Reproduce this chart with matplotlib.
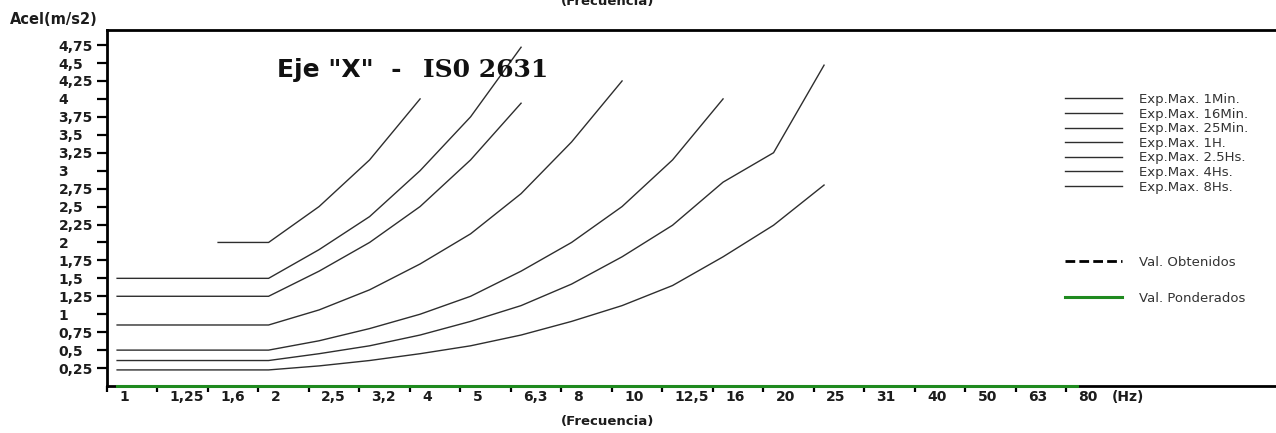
import numpy as np
import matplotlib
matplotlib.use("Agg")
import matplotlib.pyplot as plt

# Third-octave frequency bands (Hz) shown as evenly spaced categories
freq_labels = ["1", "1,25", "1,6", "2", "2,5", "3,2", "4", "5", "6,3", "8",
               "10", "12,5", "16", "20", "25", "31", "40", "50", "63", "80"]

# Maximum exposure acceleration limits (m/s2), X axis, per band
nan = np.nan
exp_1min = [nan, nan, 2.0, 2.0, 2.5, 3.15, 4.0]
exp_16min = [1.5, 1.5, 1.5, 1.5, 1.9, 2.36, 3.0, 3.75, 4.72]
exp_25min = [1.25, 1.25, 1.25, 1.25, 1.6, 2.0, 2.5, 3.15, 3.94]
exp_1h = [0.85, 0.85, 0.85, 0.85, 1.06, 1.34, 1.7, 2.12, 2.68, 3.4, 4.25]
exp_2_5h = [0.5, 0.5, 0.5, 0.5, 0.63, 0.8, 1.0, 1.25, 1.6, 2.0, 2.5, 3.15, 4.0]
exp_4h = [0.355, 0.355, 0.355, 0.355, 0.45, 0.56, 0.71, 0.9, 1.12, 1.42,
          1.8, 2.24, 2.84, 3.25, 4.47]
exp_8h = [0.224, 0.224, 0.224, 0.224, 0.28, 0.355, 0.45, 0.56, 0.71, 0.9,
          1.12, 1.4, 1.8, 2.24, 2.8]

# Measured and weighted values per band
val_obtenidos = [0.0] * len(freq_labels)
val_ponderados = [0.0] * len(freq_labels)

limit_series = [
    ("Exp.Max. 1Min.", exp_1min),
    ("Exp.Max. 16Min.", exp_16min),
    ("Exp.Max. 25Min.", exp_25min),
    ("Exp.Max. 1H.", exp_1h),
    ("Exp.Max. 2.5Hs.", exp_2_5h),
    ("Exp.Max. 4Hs.", exp_4h),
    ("Exp.Max. 8Hs.", exp_8h),
]

y_ticks = [0.25 * k for k in range(1, 20)]


def comma_label(v):
    return f"{v:g}".replace(".", ",")


W, H = 1276, 433
fig = plt.figure(figsize=(W / 100, H / 100), dpi=100)
fig.patch.set_facecolor("white")
ax = fig.add_axes([107 / W, 47 / H, 1 - 107 / W, 356 / H])
ax.set_xlim(-0.2, 22.95)
ax.set_ylim(0, 4.96)

text_col = "#1c1c1c"
line_col = "#2e2e2e"

limit_handles = []
for label, vals in limit_series:
    x = np.arange(len(vals))
    (ln,) = ax.plot(x, vals, color=line_col, lw=1.0, label=label, zorder=3)
    limit_handles.append(ln)

xi = np.arange(len(freq_labels))
(h_obt,) = ax.plot(xi, val_obtenidos, color="black", lw=2.0,
                   linestyle=(0, (3.5, 1.5)), label="Val. Obtenidos",
                   clip_on=False, zorder=4)
(h_pond,) = ax.plot(xi, val_ponderados, color="#1f8a1f", lw=2.2,
                    label="Val. Ponderados", clip_on=False, zorder=5)

# Spines
ax.spines["right"].set_visible(False)
for side in ("left", "top", "bottom"):
    ax.spines[side].set_linewidth(2.0)
    ax.spines[side].set_color("black")

# Y axis ticks and left-aligned comma labels
ax.set_yticks(y_ticks)
ax.set_yticklabels([comma_label(v) for v in y_ticks])
ax.tick_params(axis="y", direction="out", length=7, width=1.6,
               pad=28, labelsize=10, labelcolor=text_col)
for t in ax.get_yticklabels():
    t.set_horizontalalignment("left")
    t.set_fontweight("bold")

# X axis: tick marks between bands, band labels just right of each mark
ax.set_xticks(xi - 0.2)
ax.set_xticklabels([])
ax.tick_params(axis="x", which="major", direction="out", length=4,
               width=1.6)
minor_pos = list(xi + 0.04) + [19.70]
ax.set_xticks(minor_pos, minor=True)
ax.set_xticklabels(freq_labels + ["(Hz)"], minor=True)
ax.tick_params(axis="x", which="minor", length=0, pad=3, labelsize=10,
               labelcolor=text_col)
for t in ax.get_xticklabels(minor=True):
    t.set_fontweight("bold")
    t.set_horizontalalignment("left")

# Title inside the plot area
fig.text(277 / W, 1 - 77 / H, 'Eje "X"  -', fontsize=18, fontweight="bold",
         family="DejaVu Sans", color="#111111", va="baseline", ha="left")
fig.text(423 / W, 1 - 77 / H, "IS0 2631", fontsize=18, fontweight="bold",
         family="DejaVu Serif", color="#111111", va="baseline", ha="left")

# Axis captions
fig.text(10 / W, 1 - 20 / H, "Acel(m/s2)", fontsize=10.5, fontweight="bold",
         color=text_col, va="center", ha="left")
fig.text(608 / W, 1 - 422 / H, "(Frecuencia)", fontsize=9.5,
         fontweight="bold", color=text_col, va="center", ha="center")
fig.text(608 / W, 1 - 5 / H, "(Frecuencia)", fontsize=9.5,
         fontweight="bold", color=text_col, va="baseline", ha="center")

# Legends
leg1 = ax.legend(handles=limit_handles, loc="upper left",
                 bbox_to_anchor=(1065 / W, 1 - 93 / H),
                 bbox_transform=fig.transFigure, frameon=False,
                 borderpad=0, borderaxespad=0, handlelength=4.3,
                 handletextpad=1.3, labelspacing=0.12, fontsize=9.5,
                 labelcolor="#333333")
ax.add_artist(leg1)
leg2 = ax.legend(handles=[h_obt, h_pond], loc="upper left",
                 bbox_to_anchor=(1065 / W, 1 - 256 / H),
                 bbox_transform=fig.transFigure, frameon=False,
                 borderpad=0, borderaxespad=0, handlelength=4.3,
                 handletextpad=1.3, labelspacing=1.75, fontsize=9.5,
                 labelcolor="#333333")

fig.savefig("out.png", dpi=100, facecolor="white")
